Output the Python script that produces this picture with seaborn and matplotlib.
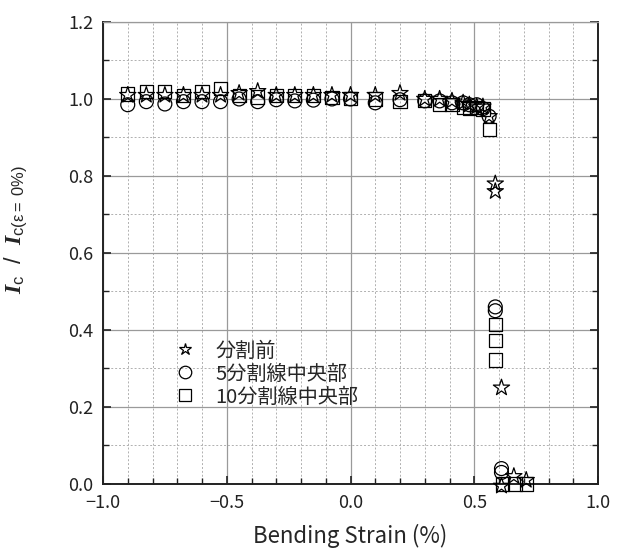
import pandas as pd
import matplotlib
matplotlib.use("Agg")
import matplotlib.pyplot as plt
from matplotlib.lines import Line2D
from matplotlib.ticker import MultipleLocator, FuncFormatter
import seaborn as sns

# strain positions shared by the three series in the flat region
flat_x = [-0.9, -0.825, -0.75, -0.675, -0.6, -0.525, -0.45, -0.375, -0.3,
          -0.225, -0.15, -0.075, 0.0, 0.1, 0.2, 0.3, 0.36, 0.41, 0.455,
          0.48, 0.51, 0.535, 0.56]

star_flat = [1.01, 1.01, 1.01, 1.01, 1.01, 1.01, 1.015, 1.02, 1.01, 1.01,
             1.01, 1.01, 1.01, 1.01, 1.015, 1.0, 1.0, 0.995, 0.99, 0.985,
             0.98, 0.98, 0.955]
circle_flat = [0.985, 0.993, 0.987, 0.993, 0.993, 0.993, 1.0, 0.993, 0.998,
               0.995, 0.997, 1.0, 1.0, 0.99, 0.998, 0.995, 0.995, 0.99, 0.99,
               0.985, 0.985, 0.975, 0.955]
square_flat = [1.013, 1.02, 1.02, 1.009, 1.02, 1.027, 1.008, 1.005, 1.01,
               1.01, 1.008, 1.003, 1.002, 1.0, 0.994, 0.995, 0.985, 0.985,
               0.977, 0.975, 0.978, 0.974, 0.92]

# points after the critical strain
star_drop_x = [0.585, 0.585, 0.61, 0.61, 0.66, 0.71]
star_drop_y = [0.78, 0.76, 0.25, -0.005, 0.02, 0.01]
circle_drop_x = [0.585, 0.585, 0.61, 0.61]
circle_drop_y = [0.46, 0.45, 0.04, 0.03]
square_drop_x = [0.585, 0.585, 0.585, 0.615, 0.665, 0.71]
square_drop_y = [0.415, 0.372, 0.322, 0.0, 0.0, 0.0]

labels = ["分割前", "5分割線中央部", "10分割線中央部"]

sns.set_style("ticks")
plt.rcParams['font.family'] = ['Noto Sans CJK JP', 'DejaVu Sans']
plt.rcParams['mathtext.fontset'] = 'custom'
plt.rcParams['mathtext.it'] = 'Liberation Serif:italic:bold'
plt.rcParams['mathtext.rm'] = 'Liberation Sans'

df = pd.concat([
    pd.DataFrame({"x": flat_x + star_drop_x, "y": star_flat + star_drop_y, "series": labels[0]}),
    pd.DataFrame({"x": flat_x + circle_drop_x, "y": circle_flat + circle_drop_y, "series": labels[1]}),
    pd.DataFrame({"x": flat_x + square_drop_x, "y": square_flat + square_drop_y, "series": labels[2]}),
])

fig = plt.figure(figsize=(6.25, 5.52), dpi=100)
ax = fig.add_axes([0.1648, 0.1232, 0.792, 0.837])

markers = {labels[0]: "*", labels[1]: "o", labels[2]: "s"}
sizes = {labels[0]: 150, labels[1]: 100, labels[2]: 90}
for lab in labels:
    sub = df[df["series"] == lab]
    sns.scatterplot(data=sub, x="x", y="y", ax=ax, marker=markers[lab],
                    s=sizes[lab], color="k", facecolors="none", edgecolor="k",
                    linewidth=0.9, legend=False, clip_on=False, zorder=3)

ax.set_xlim(-1.0, 1.0)
ax.set_ylim(0.0, 1.2)
ax.xaxis.set_major_locator(MultipleLocator(0.5))
ax.xaxis.set_minor_locator(MultipleLocator(0.1))
ax.yaxis.set_major_locator(MultipleLocator(0.2))
ax.yaxis.set_minor_locator(MultipleLocator(0.1))
fmt = FuncFormatter(lambda v, pos: f"{v:.1f}".replace("-", "\u2212"))
ax.xaxis.set_major_formatter(fmt)
ax.yaxis.set_major_formatter(fmt)

ax.grid(which="major", color="#9a9a9a", linewidth=0.9, linestyle="-")
ax.grid(which="minor", color="#b0b0b0", linewidth=0.7, linestyle=(0, (2, 2)))
ax.set_axisbelow(True)

for side in ["left", "bottom", "right"]:
    ax.spines[side].set_linewidth(1.4)
    ax.spines[side].set_color("#222222")
ax.spines["top"].set_color("#9a9a9a")
ax.spines["top"].set_linewidth(0.9)

ax.tick_params(which="both", direction="in", right=True, top=False,
               labelsize=13, colors="#222222", pad=7)
ax.tick_params(which="major", length=6, width=1.2)
ax.tick_params(which="minor", length=4, width=1.0)

ax.set_xlabel("Bending Strain (%)", fontsize=16, labelpad=9)
ax.set_ylabel(r"$\mathit{I}_\mathrm{c}\ \ /\ \ \mathit{I}_\mathrm{c(ε=\ 0\%)}$",
              fontsize=17)
ax.yaxis.set_label_coords(-0.15, 0.55)

handles = [Line2D([], [], linestyle="none", marker=markers[lab], markersize=9,
                  markerfacecolor="none", markeredgecolor="k", markeredgewidth=0.9)
           for lab in labels]
ax.legend(handles, labels, loc="center left", bbox_to_anchor=(0.145, 0.238),
          frameon=False, fontsize=14.5, handlelength=1.0, handletextpad=1.0,
          labelspacing=0.1, borderpad=0, borderaxespad=0)

fig.savefig("out.png", dpi=100)
